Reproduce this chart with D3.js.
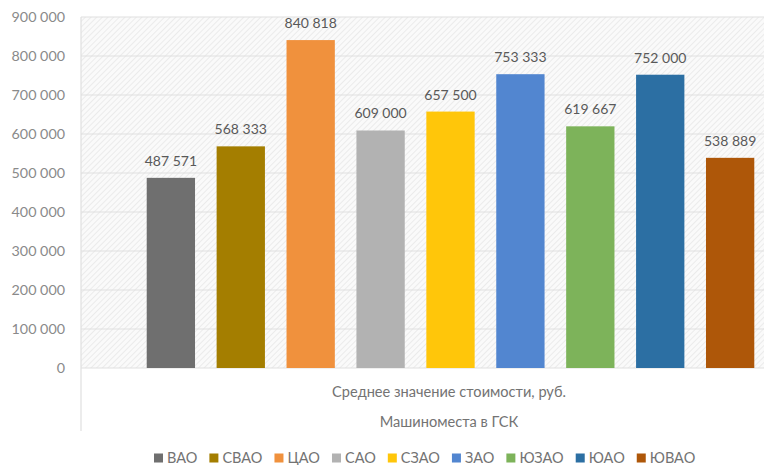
<!DOCTYPE html>
<html><head><meta charset="utf-8">
<script src="https://cdn.jsdelivr.net/npm/d3@7"></script>
<style>
html,body{margin:0;padding:0;background:#fff;}
svg{display:block;font-family:Lato,"Open Sans",sans-serif;}
</style></head>
<body><svg id="c" width="764" height="465"></svg>
<script>
const districts = ["ВАО","СВАО","ЦАО","САО","СЗАО","ЗАО","ЮЗАО","ЮАО","ЮВАО"];
const values = [487571, 568333, 840818, 609000, 657500, 753333, 619667, 752000, 538889];
const colors = ["#6f6f6f","#a47e00","#f0913d","#b2b2b2","#ffc60a","#5286d0","#7db35a","#2c6fa3","#ae5709"];
const yTicks = [0,100000,200000,300000,400000,500000,600000,700000,800000,900000];
const categoryLabel = "Среднее значение стоимости, руб.";
const groupLabel = "Машиноместа в ГСК";

const svg = d3.select("#c");
const fmt = v => d3.format(",")(v).replace(/,/g, " ");

const plot = {left:81, right:820, top:17, bottom:368};
const x = d3.scaleBand().domain(districts).range([plot.left, plot.right]).paddingInner(0.309).paddingOuter(0.94);
const y = d3.scaleLinear().domain([0,900000]).range([plot.bottom, plot.top]);

const defs = svg.append("defs");
const pat = defs.append("pattern").attr("id","hatch").attr("patternUnits","userSpaceOnUse")
  .attr("width",4).attr("height",4).attr("patternTransform","rotate(45)");
pat.append("rect").attr("width",4).attr("height",4).attr("fill","#fafafa");
pat.append("line").attr("x1",0).attr("y1",0).attr("x2",0).attr("y2",4).attr("stroke","#e2e2e2").attr("stroke-width",1.2);

svg.append("rect").attr("x",plot.left).attr("y",plot.top).attr("width",plot.right-plot.left).attr("height",plot.bottom-plot.top).attr("fill","url(#hatch)");

// gridlines
svg.append("g").selectAll("line").data(yTicks).join("line")
  .attr("x1",plot.left).attr("x2",plot.right)
  .attr("y1",d=>y(d)).attr("y2",d=>y(d))
  .attr("stroke","#e0e0e0").attr("stroke-width",1.2);

// y labels
const yAxis = d3.axisLeft(y).tickValues(yTicks).tickFormat(fmt).tickSize(0).tickPadding(16);
const ya = svg.append("g").attr("transform",`translate(${plot.left},0)`).call(yAxis);
ya.select(".domain").remove();
ya.selectAll("text").attr("fill","#8a8a8a").style("font-size","14.3px").style("font-family","Lato,sans-serif");

// vertical category axis line
svg.append("line").attr("x1",plot.left).attr("x2",plot.left).attr("y1",plot.top).attr("y2",431)
  .attr("stroke","#e0e0e0").attr("stroke-width",1.2);

// bars
svg.append("g").selectAll("rect").data(districts).join("rect")
  .attr("x",d=>x(d)).attr("width",x.bandwidth())
  .attr("y",(d,i)=>y(values[i])).attr("height",(d,i)=>y(0)-y(values[i]))
  .attr("fill",(d,i)=>colors[i]);

// value labels
svg.append("g").selectAll("text").data(districts).join("text")
  .attr("x",d=>x(d)+x.bandwidth()/2).attr("y",(d,i)=>y(values[i])-12)
  .attr("text-anchor","middle").attr("fill","#595959").style("font-size","14px")
  .text((d,i)=>fmt(values[i]));

// category labels
svg.append("text").attr("x",449).attr("y",396.5).attr("text-anchor","middle")
  .attr("fill","#737373").style("font-size","14.6px").text(categoryLabel);
svg.append("text").attr("x",449).attr("y",426.5).attr("text-anchor","middle")
  .attr("fill","#737373").style("font-size","14.6px").text(groupLabel);

// legend
const lg = svg.append("g");
let lx = 154;
districts.forEach((d,i)=>{
  const g = lg.append("g").attr("transform",`translate(${lx},0)`);
  g.append("rect").attr("x",0).attr("y",453.5).attr("width",9).attr("height",9).attr("fill",colors[i]);
  const t = g.append("text").attr("x",13).attr("y",463).attr("fill","#737373").style("font-size","14.5px").text(d);
  lx += 13 + t.node().getComputedTextLength() + 12;
});
</script></body></html>
